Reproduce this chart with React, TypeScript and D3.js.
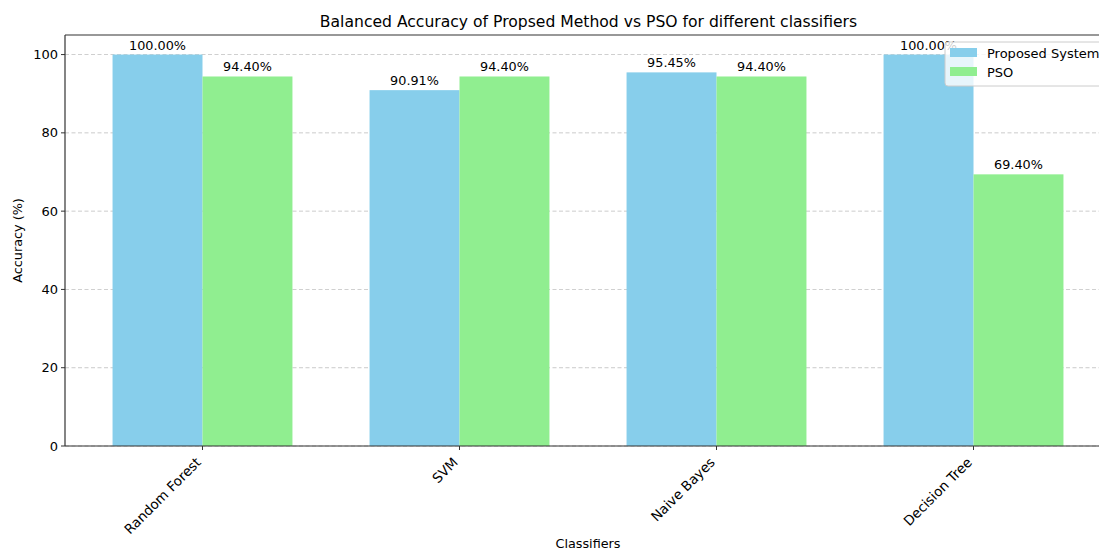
import React from "react";
import * as d3 from "d3";

const categories = ["Random Forest", "SVM", "Naive Bayes", "Decision Tree"];
const proposedValues = [100.0, 90.91, 95.45, 100.0];
const psoValues = [94.4, 94.4, 94.4, 69.4];
const seriesNames = ["Proposed System", "PSO"];
const yTicks = [0, 20, 40, 60, 80, 100];

const W = 1099;
const H = 550;
const left = 65;
const top = 35;
const bottom = 446;
const right = 1111;
const barW = 0.35;
const colors = ["#87CEEB", "#90EE90"];
const font = "DejaVu Sans, sans-serif";

export default function App() {
  const x = d3.scaleLinear().domain([-0.535, categories.length - 1 + 0.535]).range([left, right]);
  const y = d3.scaleLinear().domain([0, 105]).range([bottom, top]);
  const series = [proposedValues, psoValues];

  return (
    <svg width={W} height={H} style={{ position: "absolute", left: 0, top: 0, background: "#fff" }} fontFamily={font}>
      <text x={588.5} y={27} textAnchor="middle" fontSize={15.6} fill="#000">
        Balanced Accuracy of Propsed Method vs PSO for different classifiers
      </text>
      {yTicks.map((t) => (
        <g key={t}>
          <line x1={left} x2={right} y1={y(t)} y2={y(t)} stroke="#b0b0b0" strokeDasharray="4,2.5" strokeWidth={0.8} opacity={0.8} />
          <line x1={left - 4} x2={left} y1={y(t)} y2={y(t)} stroke="#333" strokeWidth={1} />
          <text x={left - 7} y={y(t)} dy="0.35em" textAnchor="end" fontSize={13} fill="#000">{t}</text>
        </g>
      ))}
      {series.map((vals, si) =>
        vals.map((v, i) => {
          const x0 = x(i + (si === 0 ? -barW : 0));
          const x1 = x(i + (si === 0 ? 0 : barW));
          return (
            <g key={`${si}-${i}`}>
              <rect x={x0} y={y(v)} width={x1 - x0} height={bottom - y(v)} fill={colors[si]} />
              <text x={(x0 + x1) / 2} y={y(v) - 5} textAnchor="middle" fontSize={12.8} fill="#000">
                {v.toFixed(2)}%
              </text>
            </g>
          );
        })
      )}
      <line x1={left} x2={left} y1={top} y2={bottom} stroke="#333" strokeWidth={1.2} />
      <line x1={left} x2={right} y1={top} y2={top} stroke="#333" strokeWidth={1.2} />
      <line x1={left} x2={right} y1={bottom} y2={bottom} stroke="#333" strokeWidth={1.2} />
      {categories.map((c, i) => (
        <g key={c}>
          <line x1={x(i)} x2={x(i)} y1={bottom} y2={bottom + 4} stroke="#333" strokeWidth={1} />
          <text
            transform={`translate(${x(i) - 8},${bottom + 10}) rotate(-45)`}
            textAnchor="end"
            dy="0.76em"
            fontSize={13.5}
            fill="#000"
          >
            {c}
          </text>
        </g>
      ))}
      <text x={588} y={548} textAnchor="middle" fontSize={12.8} fill="#000">Classifiers</text>
      <text transform={`translate(22,${(top + bottom) / 2}) rotate(-90)`} textAnchor="middle" fontSize={12.8} fill="#000">
        Accuracy (%)
      </text>
      <g>
        <rect x={945} y={42} width={170} height={44} rx={3} fill="#fff" fillOpacity={0.8} stroke="#ccc" strokeWidth={1} />
        {seriesNames.map((n, i) => (
          <g key={n}>
            <rect x={950} y={48 + i * 19} width={27} height={9} fill={colors[i]} />
            <text x={987} y={53 + i * 19} dy="0.35em" fontSize={13} fill="#000">{n}</text>
          </g>
        ))}
      </g>
    </svg>
  );
}
